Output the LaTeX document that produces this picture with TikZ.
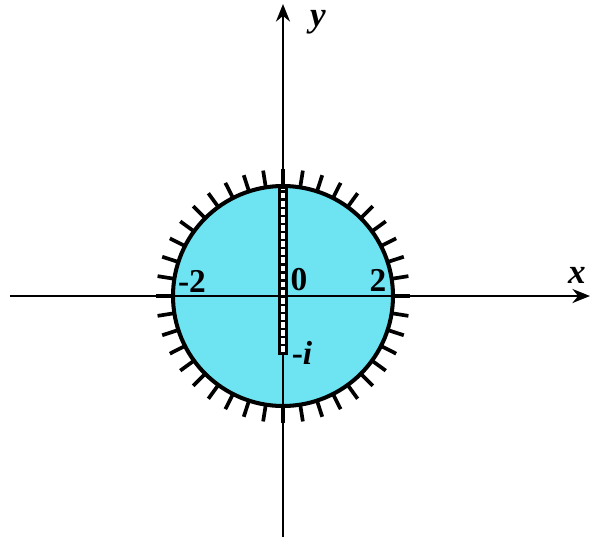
\documentclass[tikz,border=0pt]{standalone}
\usepackage{fontspec}
\setmainfont{Liberation Serif}
\usepackage{tikz}
\usetikzlibrary{arrows.meta}

\definecolor{diskfill}{RGB}{110,228,243}

\begin{document}
\begin{tikzpicture}[x=0.02cm, y=0.02cm]
    \useasboundingbox (-283,-243) rectangle (309,296);

    % Disk |z| < 2
    \draw[line width=2.3pt, fill=diskfill] (0,0) circle (110);

    % Hatching outside the circle
    \foreach \a in {0,9,...,351}
        \draw[line width=2.1pt] (\a:110) -- (\a:127);

    % Axes
    \draw[line width=1.3pt, -{Stealth[length=10pt, width=8pt]}] (-273,0) -- (307,0);
    \draw[line width=1.3pt, -{Stealth[length=10pt, width=8pt]}] (0,-241) -- (0,292);

    % Cut from -i up to the circle
    \draw[line width=5.2pt] (0,-59) -- (0,109);
    \draw[line width=2.6pt, white, dash pattern=on 3.2pt off 1.4pt] (0,-56) -- (0,107);

    % Labels
    \node[font=\fontsize{20}{22}\bfseries\itshape, inner sep=0pt] (ylab) at (35,274) {y};
    \node[font=\fontsize{20}{22}\bfseries\itshape] (xlab) at (294,21) {x};
    \node[font=\fontsize{19}{21}\bfseries] (mtwo) at (-91,15) {-2};
    \node[font=\fontsize{19}{21}\bfseries] (zero) at (16,16) {0};
    \node[font=\fontsize{19}{21}\bfseries] (two) at (95,16) {2};
    \node[font=\fontsize{19}{21}\bfseries] (mi) at (19,-57) {-\textit{i}};
\end{tikzpicture}
\end{document}
